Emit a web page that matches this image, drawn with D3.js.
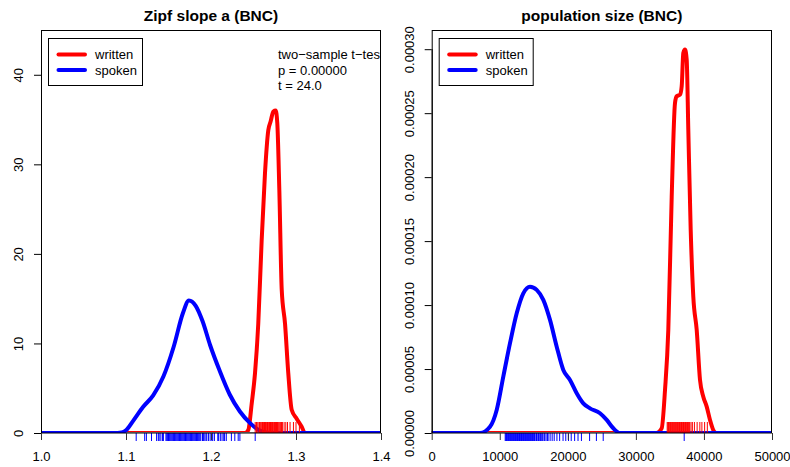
<!DOCTYPE html>
<html>
<head>
<meta charset="utf-8">
<script src="https://cdn.jsdelivr.net/npm/d3@7"></script>
<style>
  body { margin: 0; background: #fff; }
  svg { display: block; font-family: "Liberation Sans", Arial, sans-serif; }
</style>
</head>
<body>
<svg id="chart" width="790" height="467"></svg>
<script>
// Zipf slope a: density curves (x, density)
const zipfWrittenX = [1.0, 1.24, 1.2439, 1.2479, 1.2518, 1.2556, 1.2596, 1.2635, 1.2674, 1.2702, 1.2733, 1.2761, 1.278, 1.2804, 1.2832, 1.2871, 1.2909, 1.2949, 1.3008, 1.3067, 1.3106, 1.4];
const zipfWrittenY = [0, 0, 0.33, 3.3, 6.7, 12.2, 21.5, 29.0, 33.8, 34.8, 35.9, 36.0, 34.6, 27.1, 16.0, 12.2, 6.7, 2.6, 1.6, 0.7, 0, 0];
const zipfSpokenX = [1.0, 1.09, 1.095, 1.1, 1.108, 1.12, 1.132, 1.144, 1.156, 1.167, 1.174, 1.182, 1.19, 1.199, 1.21, 1.222, 1.234, 1.246, 1.255, 1.265, 1.27, 1.4];
const zipfSpokenY = [0, 0, 0.05, 0.3, 1.3, 2.9, 4.2, 6.3, 9.6, 13.4, 14.8, 14.2, 12.5, 9.8, 7.0, 4.3, 2.4, 1.1, 0.4, 0.05, 0, 0];
const zipfWrittenRug = [1.252, 1.2535, 1.255, 1.2565, 1.257, 1.258, 1.259, 1.260, 1.2605, 1.261, 1.262, 1.2625, 1.263, 1.264, 1.2645, 1.265, 1.266, 1.2665, 1.267, 1.268, 1.2685, 1.269, 1.270, 1.2705, 1.271, 1.272, 1.2725, 1.273, 1.274, 1.2745, 1.275, 1.276, 1.2765, 1.277, 1.278, 1.2785, 1.279, 1.280, 1.281, 1.282, 1.283, 1.284, 1.286, 1.288, 1.290, 1.293, 1.297, 1.300, 1.304];
const zipfSpokenRug = [1.112, 1.122, 1.124, 1.130, 1.136, 1.138, 1.139, 1.141, 1.143, 1.144, 1.147, 1.148, 1.149, 1.150, 1.151, 1.152, 1.153, 1.154, 1.155, 1.156, 1.157, 1.158, 1.159, 1.160, 1.161, 1.162, 1.163, 1.164, 1.165, 1.166, 1.167, 1.168, 1.169, 1.170, 1.171, 1.172, 1.173, 1.174, 1.175, 1.176, 1.177, 1.178, 1.179, 1.180, 1.181, 1.182, 1.183, 1.184, 1.185, 1.186, 1.187, 1.188, 1.190, 1.191, 1.192, 1.194, 1.195, 1.197, 1.199, 1.201, 1.202, 1.204, 1.208, 1.209, 1.211, 1.213, 1.215, 1.216, 1.218, 1.224, 1.228, 1.232, 1.234, 1.252];

// population size: density curves
const popWrittenX = [0, 33000, 33794, 34279, 34764, 35263, 35748, 35998, 36483, 36732, 36967, 37217, 37467, 37702, 38055, 38437, 38936, 39421, 39906, 40406, 40891, 41375, 41800, 50000];
const popWrittenY = [0, 0, 0.0000037, 0.0000335, 0.0000806, 0.0001846, 0.000258, 0.0002632, 0.0002645, 0.000271, 0.0002971, 0.0002997, 0.0002919, 0.0002371, 0.0001588, 0.0001066, 0.0000806, 0.0000415, 0.0000284, 0.0000206, 0.0000102, 0.0000023, 0, 0];
const popSpokenX = [0, 7097, 8566, 9550, 10520, 11505, 12489, 13459, 14443, 15428, 16397, 17382, 18366, 19336, 20320, 21305, 22275, 23259, 24728, 25713, 26683, 27668, 50000];
const popSpokenY = [0, 0, 0.0000049, 0.000018, 0.0000441, 0.0000702, 0.0000936, 0.0001092, 0.0001144, 0.0001119, 0.0001041, 0.0000884, 0.0000675, 0.0000493, 0.0000415, 0.0000311, 0.0000232, 0.0000193, 0.0000154, 0.0000102, 0.0000037, 0, 0];
const popWrittenRug = [34600, 34700, 34800, 34900, 35000, 35100, 35200, 35300, 35400, 35500, 35600, 35700, 35800, 35900, 36000, 36100, 36200, 36300, 36400, 36500, 36600, 36700, 36800, 36900, 37000, 37100, 37200, 37300, 37400, 37500, 37600, 37700, 37800, 37900, 38100, 38300, 38600, 39000, 39400, 39700, 40100, 40500];
const popSpokenRug = [10800, 10900, 11000, 11100, 11200, 11300, 11400, 11500, 11600, 11700, 11800, 11900, 12000, 12100, 12200, 12300, 12400, 12500, 12600, 12700, 12800, 12900, 13000, 13100, 13200, 13300, 13400, 13500, 13600, 13700, 13800, 13900, 14000, 14100, 14200, 14300, 14400, 14500, 14600, 14700, 14800, 14900, 15000, 15100, 15300, 15400, 15500, 15700, 15800, 16000, 16100, 16300, 16500, 16600, 16800, 17000, 17100, 17400, 17700, 18000, 18400, 18800, 19300, 19700, 20100, 20500, 21000, 21500, 22000, 23200, 24200, 25200, 37100];

const zipfXTicks = [1.0, 1.1, 1.2, 1.3, 1.4];
const zipfYTicks = [0, 10, 20, 30, 40];
const popXTicks = [0, 10000, 20000, 30000, 40000, 50000];
const popYTicks = [0, 0.00005, 0.0001, 0.00015, 0.0002, 0.00025, 0.0003];

const legendLabels = ['written', 'spoken'];
const testLines = ['two\u2212sample t\u2212test', 'p = 0.00000', 't = 24.0'];

const RED = '#ff0000';
const BLUE = '#0000ff';
const FONT = 13;
const svg = d3.select('#chart');
svg.append('rect').attr('width', 790).attr('height', 467).attr('fill', '#fff');

function panel(cfg) {
  const x = d3.scaleLinear().domain(cfg.xDomain).range([cfg.left, cfg.right]);
  const y = d3.scaleLinear().domain(cfg.yDomain).range([433, 30]);
  const g = svg.append('g');

  // clip to plot region, like R does
  const clipId = `clip-${cfg.id}`;
  svg.append('clipPath').attr('id', clipId)
    .append('rect')
    .attr('x', cfg.left).attr('y', 30)
    .attr('width', cfg.right - cfg.left).attr('height', 403);

  const plot = g.append('g').attr('clip-path', `url(#${clipId})`);
  const line = d3.line()
    .x(d => x(d[0]))
    .y(d => y(d[1]))
    .curve(d3.curveMonotoneX);

  plot.append('path')
    .datum(d3.zip(cfg.writtenX, cfg.writtenY))
    .attr('d', line)
    .attr('fill', 'none').attr('stroke', RED).attr('stroke-width', 4)
    .attr('stroke-linejoin', 'round').attr('stroke-linecap', 'round');

  // gray zero line
  plot.append('line')
    .attr('x1', cfg.left).attr('x2', cfg.right)
    .attr('y1', y(0) - 0.5).attr('y2', y(0) - 0.5)
    .attr('stroke', '#a0a0a0').attr('stroke-width', 1);

  plot.append('path')
    .datum(d3.zip(cfg.spokenX, cfg.spokenY))
    .attr('d', line)
    .attr('fill', 'none').attr('stroke', BLUE).attr('stroke-width', 4)
    .attr('stroke-linejoin', 'round').attr('stroke-linecap', 'round');

  // rugs
  g.append('g').selectAll('line').data(cfg.writtenRug).join('line')
    .attr('x1', d => x(d)).attr('x2', d => x(d))
    .attr('y1', 422).attr('y2', 433)
    .attr('stroke', RED).attr('stroke-width', 1);
  g.append('g').selectAll('line').data(cfg.spokenRug).join('line')
    .attr('x1', d => x(d)).attr('x2', d => x(d))
    .attr('y1', 433).attr('y2', 441)
    .attr('stroke', BLUE).attr('stroke-width', 1);

  // box
  g.append('rect')
    .attr('x', cfg.left + 0.5).attr('y', 30.5)
    .attr('width', cfg.right - cfg.left - 1).attr('height', 402.5)
    .attr('fill', 'none').attr('stroke', '#000').attr('stroke-width', 1);

  // x axis
  const xAxis = g.append('g')
    .attr('transform', 'translate(0,433)')
    .call(d3.axisBottom(x).tickValues(cfg.xTicks).tickFormat(cfg.xFormat)
      .tickSize(7).tickSizeOuter(0).tickPadding(12));
  xAxis.select('.domain').remove();
  xAxis.selectAll('.tick line').attr('stroke', '#333');

  // y axis
  const yAxis = g.append('g')
    .attr('transform', `translate(${cfg.left},0)`)
    .call(d3.axisLeft(y).tickValues(cfg.yTicks).tickFormat(cfg.yFormat)
      .tickSize(7).tickSizeOuter(0));
  yAxis.select('.domain').remove();
  yAxis.append('line')
    .attr('x1', 0.5).attr('x2', 0.5)
    .attr('y1', y(cfg.yTicks[0])).attr('y2', y(cfg.yTicks[cfg.yTicks.length - 1]))
    .attr('stroke', '#000');
  yAxis.selectAll('.tick text')
    .attr('x', 0).attr('dy', 0)
    .attr('text-anchor', 'middle')
    .attr('transform', 'translate(-18,0) rotate(-90)');

  [xAxis, yAxis].forEach(a => a.selectAll('text')
    .attr('font-size', FONT).attr('fill', '#000')
    .attr('font-family', '"Liberation Sans", Arial, sans-serif'));

  // title
  svg.append('text')
    .attr('x', (cfg.left + cfg.right) / 2).attr('y', 21)
    .attr('text-anchor', 'middle')
    .attr('font-size', 15.5).attr('font-weight', 'bold')
    .text(cfg.title);

  // legend
  const lg = svg.append('g').attr('transform', `translate(${cfg.left + 7},38)`);
  lg.append('rect')
    .attr('x', 0.5).attr('y', 0.5).attr('width', 94).attr('height', 47)
    .attr('fill', '#fff').attr('stroke', '#000');
  legendLabels.forEach((lab, i) => {
    const yy = 16.5 + i * 15.5;
    lg.append('line')
      .attr('x1', 10.5).attr('x2', 37).attr('y1', yy).attr('y2', yy)
      .attr('stroke', i === 0 ? RED : BLUE).attr('stroke-width', 4)
      .attr('stroke-linecap', 'round');
    lg.append('text')
      .attr('x', 47).attr('y', yy + 4.6)
      .attr('font-size', FONT)
      .text(lab);
  });

  return { g, x, y, clipId };
}

const left = panel({
  id: 'zipf', left: 41, right: 381,
  xDomain: [1.0, 1.4], yDomain: [0, 45],
  xTicks: zipfXTicks, yTicks: zipfYTicks,
  xFormat: d3.format('.1f'), yFormat: d3.format('d'),
  writtenX: zipfWrittenX, writtenY: zipfWrittenY,
  spokenX: zipfSpokenX, spokenY: zipfSpokenY,
  writtenRug: zipfWrittenRug, spokenRug: zipfSpokenRug,
  title: 'Zipf slope a (BNC)',
});

panel({
  id: 'pop', left: 431.7, right: 772,
  xDomain: [0, 50000], yDomain: [0, 0.000315],
  xTicks: popXTicks, yTicks: popYTicks,
  xFormat: d3.format('d'), yFormat: d3.format('.5f'),
  writtenX: popWrittenX, writtenY: popWrittenY,
  spokenX: popSpokenX, spokenY: popSpokenY,
  writtenRug: popWrittenRug, spokenRug: popSpokenRug,
  title: 'population size (BNC)',
});

// t-test note, clipped at plot edge
const note = svg.append('g').attr('clip-path', `url(#${left.clipId})`);
testLines.forEach((t, i) => {
  note.append('text')
    .attr('x', 278).attr('y', 59 + i * 15.7)
    .attr('font-size', FONT)
    .text(t);
});
</script>
</body>
</html>
